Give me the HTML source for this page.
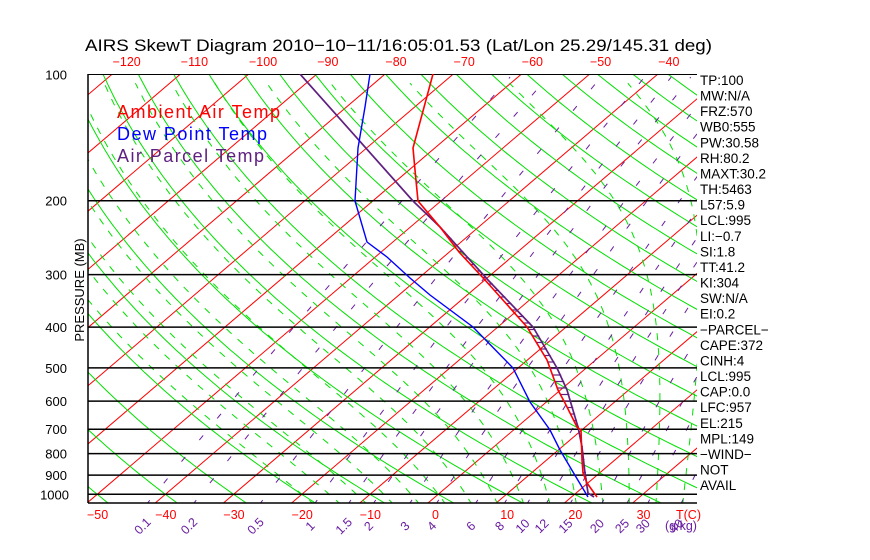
<!DOCTYPE html>
<html><head><meta charset="utf-8"><style>
html,body{margin:0;padding:0;background:#fff;width:870px;height:560px;overflow:hidden}
svg{display:block;font-family:"Liberation Sans",sans-serif}
</style></head><body>
<svg id="s" width="870" height="560" xmlns="http://www.w3.org/2000/svg">
<defs><clipPath id="c"><rect x="88" y="74" width="609" height="429"/></clipPath></defs>
<g id="grid" clip-path="url(#c)"></g>
<g id="prof" clip-path="url(#c)" fill="none"></g>
<g id="lab"></g>
</svg>
<script>
var NS="http://www.w3.org/2000/svg";
function yp(p){return 74.3+182.4*Math.log(p/100);}
function xt(T,p){return 428+6.82*T+1.172*(503-yp(p));}
function el(par,tag,at,txt){var e=document.createElementNS(NS,tag);for(var k in at)e.setAttribute(k,at[k]);if(txt!==undefined)e.textContent=txt;par.appendChild(e);return e;}
var g=document.getElementById('grid'),pr=document.getElementById('prof'),lb=document.getElementById('lab');
function path(par,pts,st){var d="";pts.forEach(function(q,i){d+=(i?"L":"M")+q[0].toFixed(1)+","+q[1].toFixed(1);});st.d=d;st.fill="none";return el(par,'path',st);}
var ps=[];for(var p=1060;p>=95;p*=0.98)ps.push(p);
for(var T=-130;T<=50;T+=10){path(g,[[xt(T,1060),yp(1060)],[xt(T,95),yp(95)]],{stroke:"#ff0000","stroke-width":1});}
for(var t0=-60;t0<=200;t0+=10){var th=t0+273.15;path(g,ps.map(function(p){return [xt(th*Math.pow(p/1000,0.2857)-273.15,p),yp(p)];}),{stroke:"#00e000","stroke-width":1});}
function es(T){return 6.112*Math.exp(17.67*T/(T+243.5));}
function ws(T,p){var e=es(T);return 0.622*e/(p-e);}
function gm(T,p){var Tk=T+273.15,w=ws(T,p),L=2.5e6,Rd=287,cp=1005;
 return (Rd*Tk+L*w)/(cp+L*L*w*0.622/(Rd*Tk*Tk))/p;}
for(var t0=-20;t0<=40;t0+=4){var T=t0,p=1000,pts=[],dp=-5;
 var Td=T,pd=1000;while(pd<1060){Td+=gm(Td,pd)*5;pd+=5;}
 T=Td;p=pd;while(p>100){pts.push([xt(T,p),yp(p)]);T+=gm(T,p)*dp;p+=dp;}
 path(g,pts,{stroke:"#00e000","stroke-width":1,"stroke-dasharray":"7,8"});}
var wl=[0.1,0.2,0.5,1,1.5,2,3,4,6,8,10,12,15,20,25,30,40];
function tdw(w,p){var e=w*p/(622+w);var l=Math.log(e/6.112);return 243.5*l/(17.67-l);}
wl.forEach(function(w){var pts=[];for(var p=1060;p>=100;p*=0.97)pts.push([xt(tdw(w,p),p),yp(p)]);
 path(g,pts,{stroke:"#6a1ea0","stroke-width":1,"stroke-dasharray":"6,22"});
 var x=xt(tdw(w,1049),1049);
 el(lb,'text',{x:x-2,y:529,fill:"#6a1ea0","font-size":12.5,transform:"rotate(-45 "+(x-2)+" 529)","text-anchor":"middle"},String(w));});
[100,200,300,400,500,600,700,800,900,1000].forEach(function(p){var y=yp(p);
 el(g,'line',{x1:88,x2:697,y1:y,y2:y,stroke:"#000","stroke-width":1.5});
 el(lb,'text',{x:p==1000?69:67,y:y+5,"font-size":13,"text-anchor":"end",fill:"#000"},String(p));});
el(lb,'line',{x1:88,x2:88,y1:74,y2:503,stroke:"#000","stroke-width":1.5});
el(lb,'line',{x1:88,x2:697,y1:503,y2:503,stroke:"#000","stroke-width":1.5});
var temp=[[433,74],[413,148],[415,170],[418,201],[440,227],[459,252],[485,280],[527,327],[547,360],[558,390],[565,403],[577,427],[581,430],[582,460],[583,473],[587,483],[592,490],[597,497]];
var parc=[[300,74],[413,201],[440,227],[488,280],[533,327],[557,368],[567,390],[578,427],[582,447],[585,473],[588,493],[594,497]];
var dew=[[370,74],[365,107],[358,148],[355,201],[367,242],[387,257],[410,278],[430,295],[473,327],[513,368],[530,402],[550,430],[560,450],[573,472],[588,497]];
function interp(a,y){for(var i=1;i<a.length;i++)if(a[i][1]>=y){var f=(y-a[i-1][1])/(a[i][1]-a[i-1][1]);return a[i-1][0]+f*(a[i][0]-a[i-1][0]);}return a[a.length-1][0];}
for(var y=232;y<492;y+=6.5){el(pr,'line',{x1:interp(temp,y),x2:interp(parc,y)+1,y1:y,y2:y,stroke:"#602080","stroke-width":1.2});}
path(pr,parc,{stroke:"#602080","stroke-width":1.7});
path(pr,temp,{stroke:"#ff0000","stroke-width":1.6});
path(pr,dew,{stroke:"#0000ff","stroke-width":1.4});
for(var T=-50;T<=30;T+=10){el(lb,'text',{x:428+6.82*T+(T<0?0:4),y:519,"font-size":12.5,fill:"#ff0000"},T<0?"\u2212"+(-T):String(T));}
el(lb,'text',{x:676,y:519,"font-size":12.5,fill:"#ff0000"},"T(C)");
el(lb,'text',{x:665,y:530,"font-size":12.5,fill:"#6a1ea0"},"(g/kg)");
for(var T=-120;T<=-40;T+=10){el(lb,'text',{x:428+6.82*T+503,y:66,"font-size":12.5,fill:"#ff0000"},"\u2212"+(-T));}
el(lb,'text',{x:85,y:51,"font-size":17,fill:"#000",textLength:627,lengthAdjust:"spacingAndGlyphs"},"AIRS SkewT Diagram 2010\u221210\u221211/16:05:01.53 (Lat/Lon 25.29/145.31 deg)");
el(lb,'text',{x:84,y:290,"font-size":13,fill:"#000","text-anchor":"middle",transform:"rotate(-90 84 290)"},"PRESSURE (MB)");
el(lb,'text',{x:117,y:118,"font-size":18,fill:"#ff0000",textLength:163},"Ambient Air Temp");
el(lb,'text',{x:117,y:140,"font-size":18,fill:"#0000ff",textLength:150},"Dew Point Temp");
el(lb,'text',{x:117,y:162,"font-size":18,fill:"#602080",textLength:147},"Air Parcel Temp");
var R=["TP:100","MW:N/A","FRZ:570","WB0:555","PW:30.58","RH:80.2","MAXT:30.2","TH:5463","L57:5.9","LCL:995","LI:\u22120.7","SI:1.8","TT:41.2","KI:304","SW:N/A","EI:0.2","\u2212PARCEL\u2212","CAPE:372","CINH:4","LCL:995","CAP:0.0","LFC:957","EL:215","MPL:149","\u2212WIND\u2212"," NOT"," AVAIL"];
R.forEach(function(t,i){el(lb,'text',{x:700,y:85+i*15.58,"font-size":13.5,fill:"#000","xml:space":"preserve"},t);});
</script>
</body></html>
